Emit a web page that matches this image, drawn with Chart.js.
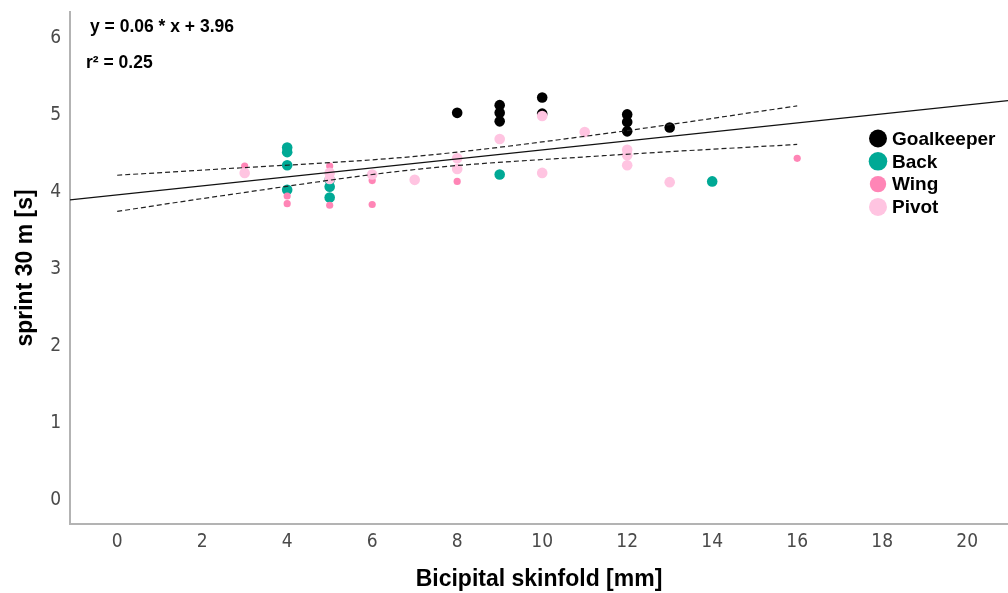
<!DOCTYPE html>
<html>
<head>
<meta charset="utf-8">
<script src="https://cdn.jsdelivr.net/npm/chart.js@4.4.1/dist/chart.umd.min.js"></script>
<style>
  html, body { margin: 0; padding: 0; background: #ffffff; }
  #wrap { width: 1008px; height: 593px; position: relative; }
</style>
</head>
<body>
<div id="wrap"><canvas id="c"></canvas></div>
<script>
// ---- data ----
const seriesNames = ["Goalkeeper", "Back", "Wing", "Pivot"];
const seriesColors = ["#000000", "#00a995", "#ff85b6", "#ffc4e1"];

const goalkeeperX = [8, 9, 9, 9, 10, 10, 12, 12, 12, 13];
const goalkeeperY = [5.03, 5.13, 5.03, 4.92, 5.23, 5.02, 5.01, 4.91, 4.79, 4.84];

const backX = [4, 4, 4, 4, 5, 5, 5, 9, 14];
const backY = [4.58, 4.52, 4.35, 4.03, 4.16, 4.07, 3.93, 4.23, 4.14];

const wingX = [3, 4, 4, 5, 5, 6, 6, 8, 16];
const wingY = [4.34, 3.95, 3.85, 4.34, 3.83, 4.15, 3.84, 4.14, 4.44];

const pivotX = [3, 5, 5, 6, 7, 8, 8, 9, 10, 10, 11, 12, 12, 12, 13];
const pivotY = [4.25, 4.25, 4.17, 4.23, 4.16, 4.44, 4.30, 4.69, 4.99, 4.25, 4.78, 4.55, 4.48, 4.35, 4.13];

// fit line and its mean confidence band
const fitX = [-1.11, 20.96];
const fitY = [3.90, 5.19];
const bandX = [0, 2.42, 7.11, 11.34, 16];
const bandUpperY = [4.22, 4.30, 4.47, 4.75, 5.12];
const bandLowerY = [3.75, 3.95, 4.30, 4.47, 4.62];

const xTicks = [0, 2, 4, 6, 8, 10, 12, 14, 16, 18, 20];
const yTicks = [0, 1, 2, 3, 4, 5, 6];

const equationText = "y = 0.06 * x + 3.96";
const r2Text = "r\u00B2 = 0.25";
const xTitle = "Bicipital skinfold [mm]";
const yTitle = "sprint 30 m [s]";

// ---- build ----
const pts = (xs, ys) => xs.map((x, i) => ({ x: x, y: ys[i] }));
const pointRadii = [5.3, 5.3, 3.6, 5.3];
const legendRadii = [9, 9.3, 8.2, 9];

function scatterSet(i, xs, ys, order) {
  return {
    label: seriesNames[i],
    data: pts(xs, ys),
    backgroundColor: seriesColors[i],
    borderColor: seriesColors[i],
    borderWidth: 0,
    pointRadius: pointRadii[i],
    pointHoverRadius: pointRadii[i],
    order: order
  };
}

const datasets = [
  { label: "fit", data: pts(fitX, fitY), showLine: true, borderColor: "#111", borderWidth: 1.2, pointRadius: 0, fill: false, order: 0 },
  { label: "upper", data: pts(bandX, bandUpperY), showLine: true, borderColor: "#222", borderWidth: 1.2, borderDash: [5, 3], pointRadius: 0, cubicInterpolationMode: "monotone", fill: false, order: 0 },
  { label: "lower", data: pts(bandX, bandLowerY), showLine: true, borderColor: "#222", borderWidth: 1.2, borderDash: [5, 3], pointRadius: 0, cubicInterpolationMode: "monotone", fill: false, order: 0 },
  scatterSet(3, pivotX, pivotY, 1),
  scatterSet(2, wingX, wingY, 2),
  scatterSet(1, backX, backY, 3),
  scatterSet(0, goalkeeperX, goalkeeperY, 4)
];

const overlay = {
  id: "overlay",
  afterDraw(chart) {
    const ctx = chart.ctx;
    ctx.save();
    ctx.fillStyle = "#000";
    ctx.textBaseline = "middle";
    ctx.textAlign = "left";
    ctx.font = "bold 17.5px 'Liberation Sans', Arial, sans-serif";
    ctx.fillText(equationText, 90, 27);
    ctx.fillText(r2Text, 86, 63);
    // legend
    const lx = 878, tx = 892, y0 = 138.5, dy = 22.8;
    ctx.font = "bold 19px 'Liberation Sans', Arial, sans-serif";
    for (let i = 0; i < seriesNames.length; i++) {
      const y = y0 + i * dy;
      ctx.beginPath();
      ctx.arc(lx, y, legendRadii[i], 0, Math.PI * 2);
      ctx.fillStyle = seriesColors[i];
      ctx.fill();
      ctx.fillStyle = "#000";
      ctx.fillText(seriesNames[i], tx, y + 1);
    }
    ctx.restore();
  }
};

const tickFont = { family: "'DejaVu Sans Condensed', 'Liberation Sans Narrow', sans-serif", size: 19 };
const titleFont = { family: "'Liberation Sans', Arial, sans-serif", size: 23, weight: "bold" };

function zeroPad(s) { s.paddingTop = 0; s.paddingBottom = 0; s.paddingLeft = 0; s.paddingRight = 0; }

new Chart(document.getElementById("c"), {
  type: "scatter",
  data: { datasets: datasets },
  plugins: [overlay],
  options: {
    responsive: true,
    maintainAspectRatio: false,
    animation: false,
    layout: { autoPadding: false, padding: { top: 12, right: 0, left: 0, bottom: 0 } },
    plugins: { legend: { display: false }, tooltip: { enabled: false } },
    scales: {
      x: {
        type: "linear",
        min: -1.11,
        max: 20.96,
        afterBuildTicks: (s) => { s.ticks = xTicks.map(v => ({ value: v })); },
        afterFit: (s) => { s.height = 69; zeroPad(s); },
        grid: { display: false, drawTicks: false },
        border: { display: true, color: "#b3b3b3", width: 2 },
        ticks: { font: tickFont, color: "#4a4a4a", padding: 7, maxRotation: 0, autoSkip: false },
        title: { display: true, text: xTitle, font: titleFont, color: "#000", padding: { top: 0, bottom: 0 } }
      },
      y: {
        type: "linear",
        min: -0.31,
        max: 6.34,
        afterBuildTicks: (s) => { s.ticks = yTicks.map(v => ({ value: v })); },
        afterFit: (s) => { s.width = 70; zeroPad(s); },
        grid: { display: false, drawTicks: false },
        border: { display: true, color: "#b3b3b3", width: 2 },
        ticks: { font: tickFont, color: "#4a4a4a", padding: 9, autoSkip: false },
        title: { display: true, text: yTitle, font: titleFont, color: "#000", padding: { top: 12, bottom: 0 } }
      }
    }
  }
});
</script>
</body>
</html>
